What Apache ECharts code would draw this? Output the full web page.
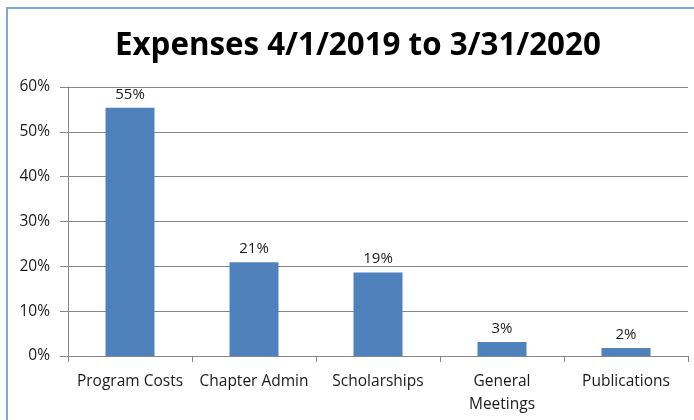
<!DOCTYPE html>
<html><head><meta charset="utf-8">
<script src="https://cdn.jsdelivr.net/npm/echarts@6/dist/echarts.min.js"></script>
<style>html,body{margin:0;padding:0;background:#fff}#c{width:694px;height:420px}</style>
</head><body><div id="c"></div>
<script>
const titleText = 'Expenses 4/1/2019 to 3/31/2020';
const categories = ['Program Costs', 'Chapter Admin', 'Scholarships', 'General\nMeetings', 'Publications'];
const values = [55.35, 20.9, 18.6, 3.1, 1.8];
const yTicks = [0, 10, 20, 30, 40, 50, 60];

const chart = echarts.init(document.getElementById('c'));
chart.setOption({
  animation: false,
  graphic: [{
    type: 'rect', shape: {x: 7, y: 8, width: 2000, height: 2000},
    style: {fill: 'none', stroke: '#7FA7D9', lineWidth: 2}, silent: true
  }],
  title: {
    text: titleText, left: 110, top: 26,
    textStyle: {fontFamily: 'Open Sans', fontWeight: 'bold', fontSize: 31.3, color: '#000'}
  },
  grid: {left: 68, right: 6, top: 87, bottom: 64, containLabel: false},
  xAxis: {
    type: 'category', data: categories,
    axisLine: {lineStyle: {color: '#868686', width: 1}},
    axisTick: {show: true, alignWithLabel: false, length: 6, lineStyle: {color: '#868686'}},
    axisLabel: {interval: 0, margin: 14, fontFamily: 'Open Sans', fontSize: 15.5, color: '#1a1a1a', lineHeight: 23}
  },
  yAxis: {
    type: 'value', min: yTicks[0], max: yTicks[yTicks.length - 1], interval: 10,
    axisLine: {show: true, lineStyle: {color: '#868686'}},
    axisTick: {show: true, length: 8, lineStyle: {color: '#868686'}},
    splitLine: {show: true, lineStyle: {color: '#868686', width: 1}},
    axisLabel: {formatter: v => v + '%', margin: 18, fontFamily: 'Open Sans', fontSize: 15.5, color: '#1a1a1a'}
  },
  series: [{
    type: 'bar', data: values, barWidth: 49,
    itemStyle: {color: '#4F81BD'},
    label: {show: true, position: 'top', distance: 6, formatter: p => Math.round(p.value) + '%',
      fontFamily: 'Open Sans', fontSize: 15, color: '#1a1a1a'}
  }]
});
</script></body></html>
